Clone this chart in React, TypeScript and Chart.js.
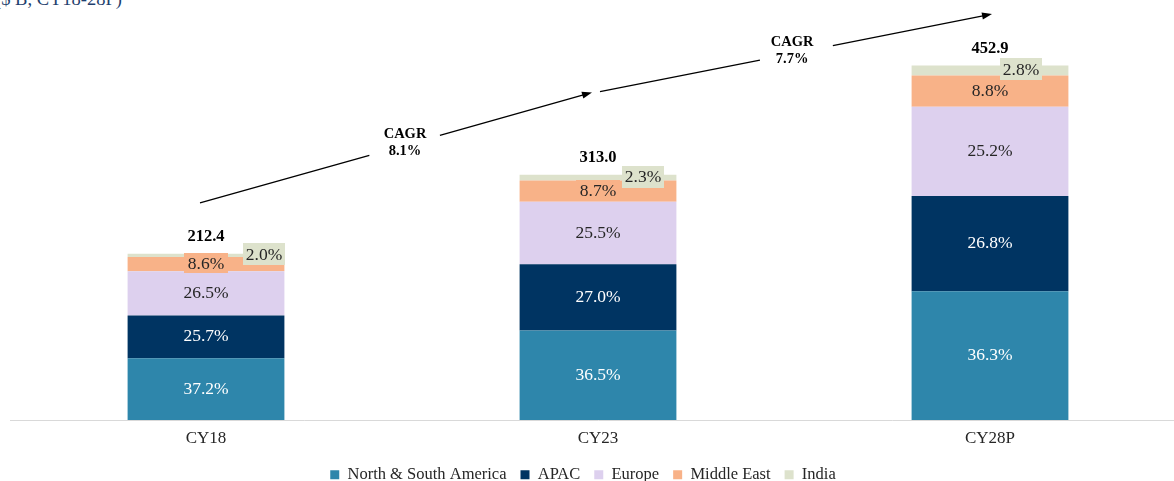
import React, { useEffect, useRef } from 'react';
import { Chart, registerables } from 'chart.js';

Chart.register(...registerables);

const categories = ['CY18', 'CY23', 'CY28P'];
const totals = [212.4, 313.0, 452.9];
const northSouthAmericaShare = [37.2, 36.5, 36.3];
const apacShare = [25.7, 27.0, 26.8];
const europeShare = [26.5, 25.5, 25.2];
const middleEastShare = [8.6, 8.7, 8.8];
const indiaShare = [2.0, 2.3, 2.8];
const seriesNames = ['North & South America', 'APAC', 'Europe', 'Middle East', 'India'];
const cagrLabels = ['8.1%', '7.7%'];
const subtitle = '($ B, CY18-28P)';

const shares = [northSouthAmericaShare, apacShare, europeShare, middleEastShare, indiaShare];

const COLORS = ['#2E86AB', '#003462', '#DDD0EE', '#F8B288', '#DDE2CC'];
const LABEL_COLORS = ['#FFFFFF', '#FFFFFF', '#262626', '#262626', '#262626'];
const FONT = "'Liberation Serif', 'Times New Roman', serif";
const TEXT = '#262626';

// layout: horizontal nudge (px) of the India call-out per bar
const INDIA_LABEL_DX = [58, 45, 31];
// layout: legend nudge (px)
const LEGEND_DX = -15;
const LEGEND_DY = -4;
// CAGR arrow geometry (x: category index + pixel nudge, y: axis units)
const ARROWS = [
  { from: 0, to: 1, dx0: -6, dx1: -6, y0: 277, y1: 418, tText: 0.523, g0: 0.432, g1: 0.612 },
  { from: 1, to: 2, dx0: 2, dx1: 2, y0: 419, y1: 518, tText: 0.49, g0: 0.408, g1: 0.594 },
];

const legendNudge = {
  id: 'legendNudge',
  afterLayout(chart: any) {
    const l = chart.legend;
    if (!l) return;
    l.top += LEGEND_DY;
    l.bottom += LEGEND_DY;
    l.left += LEGEND_DX;
    l.right += LEGEND_DX;
  },
};

const labelPlugin = {
  id: 'segLabels',
  afterDatasetsDraw(chart: any) {
    const ctx = chart.ctx as CanvasRenderingContext2D;
    ctx.save();
    ctx.textAlign = 'center';
    ctx.textBaseline = 'middle';
    chart.data.datasets.forEach((_ds: any, di: number) => {
      const meta = chart.getDatasetMeta(di);
      meta.data.forEach((bar: any, i: number) => {
        const { x, y, base } = bar.getProps(['x', 'y', 'base'], true);
        const cy = (y + base) / 2;
        const text = shares[di][i].toFixed(1) + '%';
        ctx.font = `17.5px ${FONT}`;
        const tw = ctx.measureText(text).width;
        let tx = x;
        if (di === 4) {
          tx = x + INDIA_LABEL_DX[i];
          ctx.fillStyle = COLORS[4];
          ctx.fillRect(Math.round(tx - tw / 2 - 3), Math.round(cy - 12), Math.round(tw + 6), 22);
        } else if (di === 3) {
          ctx.fillStyle = COLORS[3];
          ctx.fillRect(Math.round(tx - tw / 2 - 4), Math.round(cy - 11), Math.round(tw + 8), 20);
        }
        ctx.fillStyle = LABEL_COLORS[di];
        ctx.fillText(text, tx, cy);
      });
    });
    // totals
    const topMeta = chart.getDatasetMeta(chart.data.datasets.length - 1);
    ctx.font = `bold 16.5px ${FONT}`;
    ctx.fillStyle = '#000000';
    topMeta.data.forEach((bar: any, i: number) => {
      const { x, y } = bar.getProps(['x', 'y'], true);
      ctx.fillText(totals[i].toFixed(1), x, y - 17);
    });
    // CAGR arrows
    const xs = chart.scales.x;
    const ys = chart.scales.y;
    ARROWS.forEach((a, k) => {
      const x0 = xs.getPixelForValue(a.from) + a.dx0;
      const y0 = ys.getPixelForValue(a.y0);
      const x1 = xs.getPixelForValue(a.to) + a.dx1;
      const y1 = ys.getPixelForValue(a.y1);
      const pt = (t: number) => [x0 + (x1 - x0) * t, y0 + (y1 - y0) * t];
      const len = Math.hypot(x1 - x0, y1 - y0);
      const ux = (x1 - x0) / len;
      const uy = (y1 - y0) / len;
      const headLen = 10;
      ctx.strokeStyle = '#000000';
      ctx.lineWidth = 1.3;
      const g0 = pt(a.g0);
      const g1 = pt(a.g1);
      ctx.beginPath();
      ctx.moveTo(x0, y0);
      ctx.lineTo(g0[0], g0[1]);
      ctx.moveTo(g1[0], g1[1]);
      ctx.lineTo(x1 - ux * headLen * 0.8, y1 - uy * headLen * 0.8);
      ctx.stroke();
      ctx.fillStyle = '#000000';
      ctx.beginPath();
      ctx.moveTo(x1, y1);
      ctx.lineTo(x1 - ux * headLen - uy * 3.5, y1 - uy * headLen + ux * 3.5);
      ctx.lineTo(x1 - ux * headLen + uy * 3.5, y1 - uy * headLen - ux * 3.5);
      ctx.closePath();
      ctx.fill();
      const c = pt(a.tText);
      ctx.font = `bold 14.5px ${FONT}`;
      ctx.fillText('CAGR', c[0], c[1] - 11);
      ctx.fillText(cagrLabels[k], c[0], c[1] + 6);
    });
    ctx.restore();
  },
};

export default function App() {
  const ref = useRef<HTMLCanvasElement | null>(null);
  useEffect(() => {
    if (!ref.current) return;
    Chart.defaults.font.family = FONT;
    const datasets = shares.map((s, di) => ({
      label: seriesNames[di],
      data: s.map((v, i) => (totals[i] * v) / 100),
      backgroundColor: COLORS[di],
      borderWidth: 0,
      categoryPercentage: 0.4,
      barPercentage: 1,
    }));
    const chart = new Chart(ref.current, {
      type: 'bar',
      data: { labels: categories, datasets },
      options: {
        responsive: false,
        animation: false,
        layout: { padding: 0 },
        plugins: {
          legend: {
            position: 'bottom',
            labels: {
              boxWidth: 9,
              boxHeight: 9,
              padding: 14,
              color: TEXT,
              font: { family: FONT, size: 16.5 },
            },
          },
          tooltip: { enabled: false },
          title: { display: false },
        },
        scales: {
          x: {
            stacked: true,
            grid: { display: false, drawTicks: false },
            border: { display: true, color: '#D9D9D9', width: 1 },
            ticks: { padding: 8, color: TEXT, font: { family: FONT, size: 17 } },
          },
          y: { stacked: true, display: false, min: 0, max: 536 },
        },
      },
      plugins: [legendNudge, labelPlugin],
    } as any);
    return () => chart.destroy();
  }, []);

  return (
    <div
      style={{
        position: 'fixed',
        left: 0,
        top: 0,
        width: 1174,
        height: 481,
        overflow: 'hidden',
        background: '#ffffff',
      }}
    >
      <div
        style={{
          position: 'absolute',
          left: -5,
          top: -11,
          fontFamily: FONT,
          fontSize: 18.5,
          color: '#1F3F6E',
          whiteSpace: 'nowrap',
          lineHeight: 'normal',
        }}
      >
        {subtitle}
      </div>
      <canvas
        ref={ref}
        width={1176}
        height={497}
        style={{ position: 'absolute', left: 10, top: 0, width: 1176, height: 497 }}
      />
    </div>
  );
}
